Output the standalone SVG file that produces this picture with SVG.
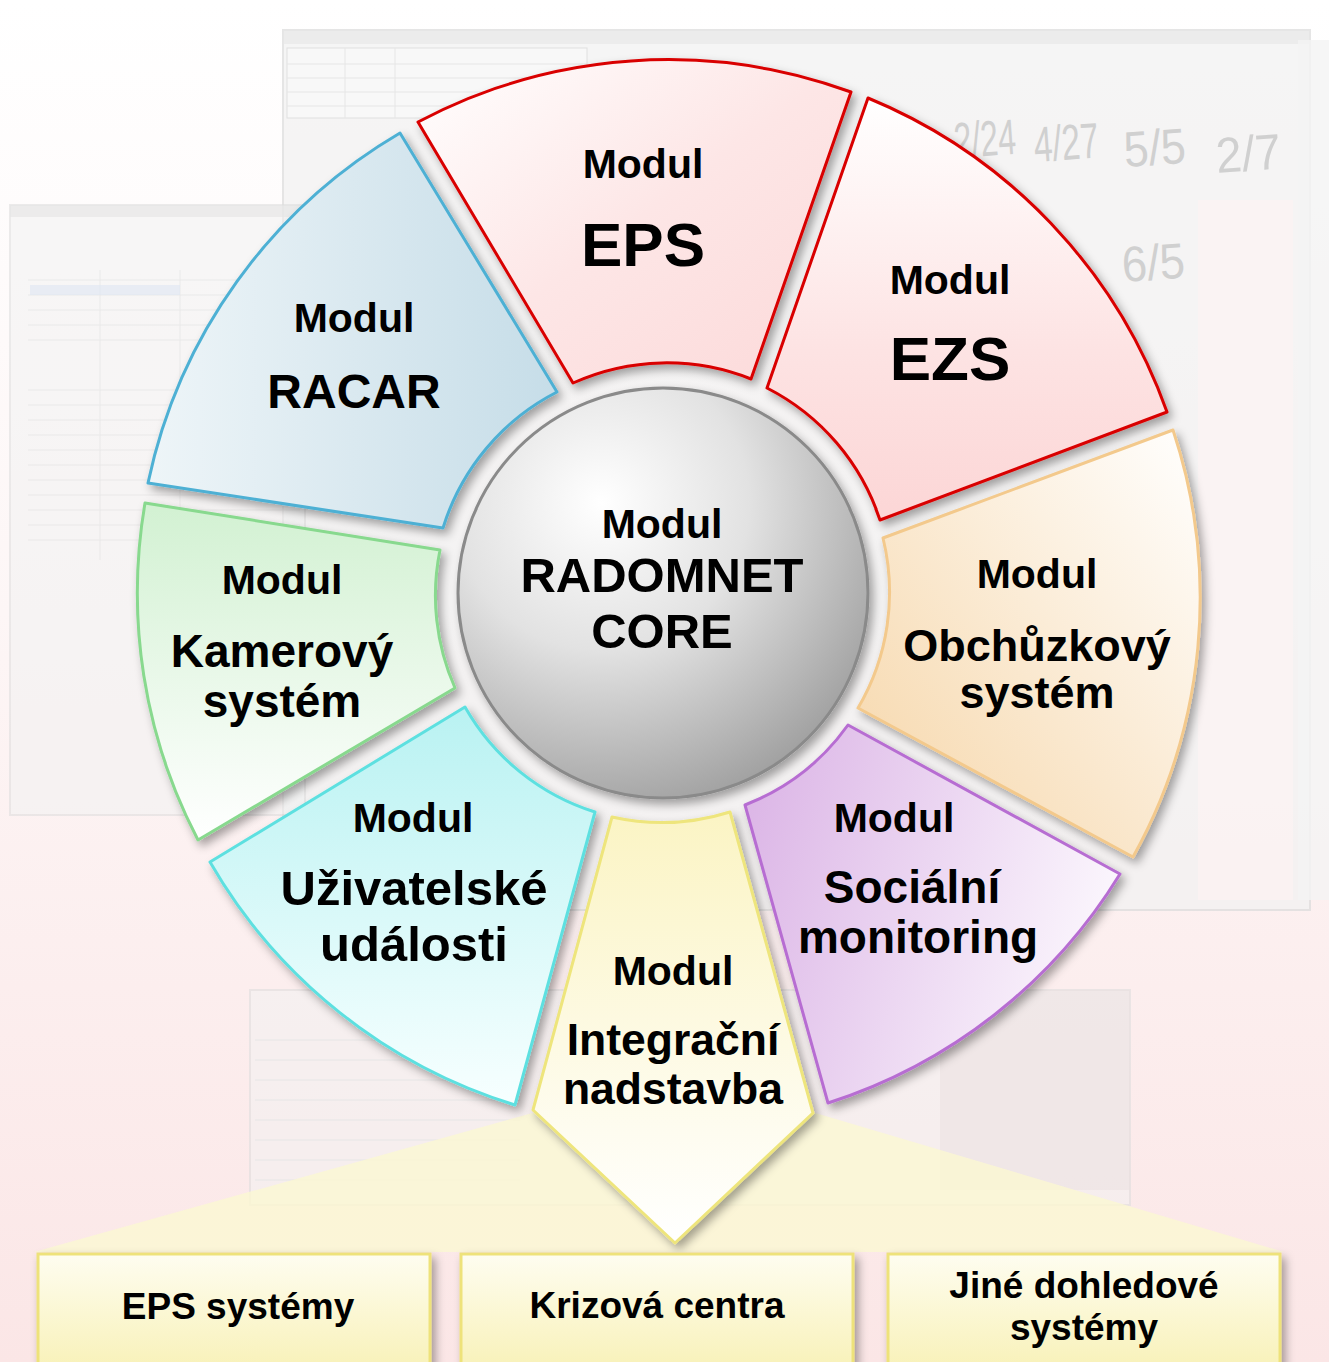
<svg xmlns="http://www.w3.org/2000/svg" width="1329" height="1362" viewBox="0 0 1329 1362">
<defs>
  <linearGradient id="bg" x1="0" y1="0" x2="0" y2="1">
    <stop offset="0" stop-color="#ffffff"/>
    <stop offset="0.45" stop-color="#fdf6f6"/>
    <stop offset="1" stop-color="#fbe6e6"/>
  </linearGradient>
  <radialGradient id="core" cx="0.35" cy="0.28" r="0.8">
    <stop offset="0" stop-color="#ffffff"/>
    <stop offset="0.45" stop-color="#e2e2e2"/>
    <stop offset="1" stop-color="#9c9c9c"/>
  </radialGradient>
  <linearGradient id="gEps" x1="0" y1="0" x2="1" y2="1">
    <stop offset="0" stop-color="#ffffff"/>
    <stop offset="0.5" stop-color="#fde6e6"/>
    <stop offset="1" stop-color="#fcd9d9"/>
  </linearGradient>
  <linearGradient id="gEzs" x1="0" y1="0" x2="0" y2="1">
    <stop offset="0" stop-color="#ffffff"/>
    <stop offset="0.6" stop-color="#fde3e3"/>
    <stop offset="1" stop-color="#fcd6d6"/>
  </linearGradient>
  <linearGradient id="gRacar" x1="0" y1="0" x2="1" y2="0">
    <stop offset="0" stop-color="#eef5f8"/>
    <stop offset="1" stop-color="#c6dde8"/>
  </linearGradient>
  <linearGradient id="gKam" x1="0" y1="0" x2="0" y2="1">
    <stop offset="0" stop-color="#d2f1d2"/>
    <stop offset="1" stop-color="#ffffff"/>
  </linearGradient>
  <linearGradient id="gUziv" x1="0" y1="0" x2="0" y2="1">
    <stop offset="0" stop-color="#b9f2f2"/>
    <stop offset="1" stop-color="#f7ffff"/>
  </linearGradient>
  <linearGradient id="gInt" x1="0" y1="0" x2="0" y2="1">
    <stop offset="0" stop-color="#fbf4c4"/>
    <stop offset="1" stop-color="#ffffff"/>
  </linearGradient>
  <linearGradient id="gSoc" x1="0" y1="0" x2="1" y2="0.3">
    <stop offset="0" stop-color="#dab2e5"/>
    <stop offset="1" stop-color="#faf4fc"/>
  </linearGradient>
  <linearGradient id="gObch" x1="0" y1="1" x2="1" y2="0">
    <stop offset="0" stop-color="#f6d5a6"/>
    <stop offset="1" stop-color="#ffffff"/>
  </linearGradient>
  <linearGradient id="gBox" x1="0" y1="0" x2="0" y2="1">
    <stop offset="0" stop-color="#fefdf0"/>
    <stop offset="1" stop-color="#f8f1b6"/>
  </linearGradient>
  <filter id="sh" x="-20%" y="-20%" width="140%" height="140%">
    <feDropShadow dx="4" dy="5" stdDeviation="5" flood-color="#000" flood-opacity="0.35"/>
  </filter>
  <style>
    text { font-family: "Liberation Sans", Arial, sans-serif; font-weight: bold; fill: #000; text-anchor: middle; }
    .m { font-size: 41px; }
    .big { font-size: 62px; }
    .lbl { font-size: 46px; }
    .bx { font-size: 37px; }
    .bgnum { font-weight: normal; font-size: 50px; fill: #d0d0d0; text-anchor: start; }
    .sec { stroke-width: 3; stroke-linejoin: round; filter: url(#sh); }
    .win { fill: #f2f2f2; stroke: #dddddd; stroke-width: 2; opacity: 0.55; }
    .row { stroke: #e6e6e6; stroke-width: 1; }
  </style>
</defs>

<!-- background -->
<rect x="0" y="0" width="1329" height="1362" fill="url(#bg)"/>
<g id="background-screens">
  <rect class="win" x="283" y="30" width="1027" height="880" style="opacity:0.75"/>
  <rect x="283" y="30" width="1027" height="14" fill="#e6e6e6" opacity="0.6"/>
  <rect x="287" y="48" width="300" height="70" fill="#f8f8f8" stroke="#e0e0e0"/>
  <g class="row">
    <line x1="287" y1="64" x2="587" y2="64"/><line x1="287" y1="78" x2="587" y2="78"/>
    <line x1="287" y1="92" x2="587" y2="92"/><line x1="287" y1="106" x2="587" y2="106"/>
    <line x1="345" y1="48" x2="345" y2="118"/><line x1="395" y1="48" x2="395" y2="118"/>
  </g>
  <rect x="1198" y="200" width="95" height="700" fill="#fbf3f3" opacity="0.8"/>
  <rect x="1298" y="40" width="31" height="860" fill="#f4f4f4" opacity="0.8"/>
  <rect class="win" x="10" y="205" width="295" height="610"/>
  <rect x="10" y="205" width="295" height="12" fill="#e4e4e4" opacity="0.6"/>
  <g class="row" opacity="0.8">
    <line x1="28" y1="280" x2="300" y2="280"/><line x1="28" y1="295" x2="300" y2="295"/>
    <line x1="28" y1="310" x2="300" y2="310"/><line x1="28" y1="325" x2="300" y2="325"/>
    <line x1="28" y1="340" x2="300" y2="340"/><line x1="28" y1="390" x2="300" y2="390"/>
    <line x1="28" y1="405" x2="300" y2="405"/><line x1="28" y1="420" x2="300" y2="420"/>
    <line x1="28" y1="435" x2="300" y2="435"/><line x1="28" y1="450" x2="300" y2="450"/>
    <line x1="28" y1="465" x2="300" y2="465"/><line x1="28" y1="480" x2="300" y2="480"/>
    <line x1="28" y1="495" x2="300" y2="495"/><line x1="28" y1="510" x2="300" y2="510"/>
    <line x1="28" y1="525" x2="300" y2="525"/><line x1="28" y1="540" x2="300" y2="540"/>
    <line x1="100" y1="270" x2="100" y2="560"/><line x1="180" y1="270" x2="180" y2="560"/>
  </g>
  <rect x="30" y="285" width="150" height="10" fill="#dde6f3" opacity="0.6"/>
  <rect class="win" x="250" y="990" width="880" height="215"/>
  <g class="row">
    <line x1="255" y1="1040" x2="520" y2="1040"/><line x1="255" y1="1060" x2="520" y2="1060"/>
    <line x1="255" y1="1080" x2="520" y2="1080"/><line x1="255" y1="1100" x2="520" y2="1100"/>
    <line x1="255" y1="1120" x2="520" y2="1120"/><line x1="255" y1="1140" x2="520" y2="1140"/>
    <line x1="255" y1="1160" x2="520" y2="1160"/><line x1="255" y1="1180" x2="520" y2="1180"/>
  </g>
  <rect x="940" y="990" width="190" height="200" fill="#eadfdf" opacity="0.5"/>
  <text class="bgnum" x="955" y="158" textLength="62" lengthAdjust="spacingAndGlyphs" transform="rotate(-4 955 158)">2/24</text>
  <text class="bgnum" x="1035" y="162" textLength="65" lengthAdjust="spacingAndGlyphs" transform="rotate(-4 1035 162)">4/27</text>
  <text class="bgnum" x="1125" y="167" textLength="62" lengthAdjust="spacingAndGlyphs" transform="rotate(-4 1125 167)">5/5</text>
  <text class="bgnum" x="1217" y="173" textLength="65" lengthAdjust="spacingAndGlyphs" transform="rotate(-4 1217 173)">2/7</text>
  <text class="bgnum" x="1123" y="282" textLength="63" lengthAdjust="spacingAndGlyphs" transform="rotate(-4 1123 282)">6/5</text>
</g>

<!-- connectors: fan from integration arrow to target systems -->
<g id="connectors">
  <polygon points="536,1112 34,1252 1284,1252 812,1112" fill="#fbf7d2" opacity="0.8"/>
</g>

<g id="node-eps">
  <path class="sec" d="M418,122 A533,533 0 0 1 851,92 L751,379 A228,228 0 0 0 573,383 Z" fill="url(#gEps)" stroke="#d90000"/>
  <text class="m" x="643" y="178">Modul</text>
  <text class="big" x="643" y="266">EPS</text>
</g>

<g id="node-ezs">
  <path class="sec" d="M868,98 A533,533 0 0 1 1167,412 L880,520 A228,228 0 0 0 767,388 Z" fill="url(#gEzs)" stroke="#d90000"/>
  <text class="m" x="950" y="294">Modul</text>
  <text class="big" x="950" y="380">EZS</text>
</g>

<g id="node-racar">
  <path class="sec" d="M400,133 L557,392 A228,228 0 0 0 443,528 L148,483 A533,533 0 0 1 400,133 Z" fill="url(#gRacar)" stroke="#4eb0d4"/>
  <text class="m" x="354" y="332">Modul</text>
  <text class="big" x="354" y="408" style="font-size:48px">RACAR</text>
</g>

<g id="node-obchuzkovy">
  <path class="sec" d="M1173,430 A533,533 0 0 1 1133,857 L858,708 A228,228 0 0 0 883,538 Z" fill="url(#gObch)" stroke="#f3c98c"/>
  <text class="m" x="1037" y="588">Modul</text>
  <text class="lbl" x="1037" y="661" style="font-size:45px">Obchůzkový</text>
  <text class="lbl" x="1037" y="708" style="font-size:45px">systém</text>
</g>

<g id="node-socialni">
  <path class="sec" d="M848,725 L1120,874 A533,533 0 0 1 828,1103 L745,805 A228,228 0 0 0 848,725 Z" fill="url(#gSoc)" stroke="#b76dd2"/>
  <text class="m" x="894" y="832">Modul</text>
  <text class="lbl" x="912" y="903">Sociální</text>
  <text class="lbl" x="918" y="953">monitoring</text>
</g>

<g id="node-integracni">
  <path class="sec" d="M612,817 L533,1110 L675,1243 L813,1113 L730,812 A228,228 0 0 1 612,817 Z" fill="url(#gInt)" stroke="#eee57c"/>
  <text class="m" x="673" y="985">Modul</text>
  <text class="lbl" x="673" y="1055" style="font-size:44.5px">Integrační</text>
  <text class="lbl" x="673" y="1104" style="font-size:44.5px">nadstavba</text>
</g>

<g id="node-uzivatelske">
  <path class="sec" d="M465,707 A228,228 0 0 0 595,812 L515,1105 A533,533 0 0 1 210,862 Z" fill="url(#gUziv)" stroke="#5de0e0"/>
  <text class="m" x="413" y="832">Modul</text>
  <text class="lbl" x="414" y="905" style="font-size:49px">Uživatelské</text>
  <text class="lbl" x="414" y="961" style="font-size:49px">události</text>
</g>

<g id="node-kamerovy">
  <path class="sec" d="M145,503 L440,550 A228,228 0 0 0 455,688 L198,840 A533,533 0 0 1 145,503 Z" fill="url(#gKam)" stroke="#88d98e"/>
  <text class="m" x="282" y="594">Modul</text>
  <text class="lbl" x="282" y="667">Kamerový</text>
  <text class="lbl" x="282" y="717">systém</text>
</g>

<g id="node-core">
  <circle cx="663" cy="593" r="205" fill="url(#core)" stroke="#8a8a8a" stroke-width="3" filter="url(#sh)"/>
  <text class="m" x="662" y="538">Modul</text>
  <text class="lbl" x="662" y="592" style="font-size:49px">RADOMNET</text>
  <text class="lbl" x="662" y="648" style="font-size:49px">CORE</text>
</g>

<g id="node-eps-systemy">
  <rect x="38" y="1254" width="392" height="120" fill="url(#gBox)" stroke="#eee27a" stroke-width="3" filter="url(#sh)"/>
  <text class="bx" x="238" y="1319">EPS systémy</text>
</g>
<g id="node-krizova-centra">
  <rect x="461" y="1254" width="392" height="120" fill="url(#gBox)" stroke="#eee27a" stroke-width="3" filter="url(#sh)"/>
  <text class="bx" x="657" y="1318">Krizová centra</text>
</g>
<g id="node-jine">
  <rect x="888" y="1254" width="392" height="120" fill="url(#gBox)" stroke="#eee27a" stroke-width="3" filter="url(#sh)"/>
  <text class="bx" x="1084" y="1298">Jiné dohledové</text>
  <text class="bx" x="1084" y="1340">systémy</text>
</g>
</svg>
